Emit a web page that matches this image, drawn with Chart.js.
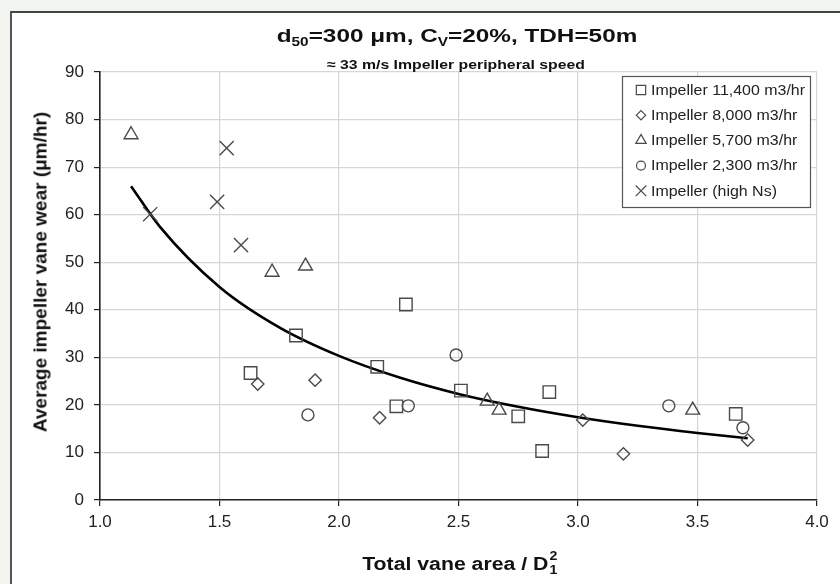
<!DOCTYPE html>
<html>
<head>
<meta charset="utf-8">
<script src="https://cdn.jsdelivr.net/npm/chart.js@4.4.1/dist/chart.umd.min.js"></script>
<style>
  html, body { margin: 0; padding: 0; background: #f2f4ef; }
  #wrap { position: relative; width: 840px; height: 584px; overflow: hidden; }
  #frame { position: absolute; left: 10px; top: 11px; width: 860px; height: 600px; background: #fff;
           border-left: 2px solid #555; border-top: 2px solid #444; }
  #chart { position: absolute; left: 0; top: 0; }
  .txt { position: absolute; font-family: "Liberation Sans", Arial, sans-serif; font-weight: bold;
         color: #111; white-space: nowrap; line-height: 1; }
  #title { left: 457px; top: 26px; transform: translateX(-50%) scaleX(1.28); font-size: 19px; }
  #title sub { font-size: 12px; vertical-align: -4px; }
  #subtitle { left: 456px; top: 58px; transform: translateX(-50%) scaleX(1.17); font-size: 13.5px; }
  #ytitle { left: 40px; top: 272px; transform: translate(-50%, -50%) rotate(-90deg); font-size: 19px; }
  #xtitle { left: 460px; top: 555px; transform: translateX(-50%) scaleX(1.18); font-size: 18px; }
  .stack { display: inline-block; position: relative; width: 8px; height: 18px; vertical-align: top; }
  .stack span { position: absolute; left: 1px; font-size: 12px; }
  .stack .sup { top: -5px; }
  .stack .sub { top: 9px; }
</style>
</head>
<body>
<div id="wrap">
  <div id="frame"></div>
  <canvas id="chart" width="840" height="584"></canvas>
  <div class="txt" id="title">d<sub>50</sub>=300 &mu;m, C<sub>V</sub>=20%, TDH=50m</div>
  <div class="txt" id="subtitle">&asymp; 33 m/s Impeller peripheral speed</div>
  <div class="txt" id="ytitle">Average impeller vane wear (&mu;m/hr)</div>
  <div class="txt" id="xtitle">Total vane area / D<span class="stack"><span class="sup">2</span><span class="sub">1</span></span></div>
</div>
<script>
// series (x = total vane area / D1^2, y = wear um/hr)
const imp11400X = [1.63, 1.82, 2.16, 2.24, 2.28, 2.51, 2.75, 2.85, 2.88, 3.66];
const imp11400Y = [26.7, 34.6, 28.0, 19.7, 41.1, 23.0, 17.6, 10.3, 22.7, 18.1];
const imp8000X = [1.66, 1.90, 2.17, 3.02, 3.19, 3.71];
const imp8000Y = [24.4, 25.2, 17.3, 16.8, 9.7, 12.6];
const imp5700X = [1.13, 1.72, 1.86, 2.62, 2.67, 3.48];
const imp5700Y = [76.8, 47.9, 49.2, 20.8, 18.9, 18.9];
const imp2300X = [1.87, 2.29, 2.49, 3.38, 3.69];
const imp2300Y = [17.9, 19.8, 30.5, 19.8, 15.2];
const highNsX = [1.21, 1.49, 1.53, 1.59];
const highNsY = [60.1, 62.7, 74.0, 53.6];
// trend curve as traced
const trendX = [1.13, 1.25, 1.5, 1.75, 2.0, 2.25, 2.5, 2.75, 3.0, 3.25, 3.5, 3.71];
const trendY = [66.0, 57.5, 44.8, 36.3, 30.3, 25.8, 22.3, 19.6, 17.4, 15.6, 14.1, 13.0];

const seriesLabels = ['Impeller 11,400 m3/hr', 'Impeller 8,000 m3/hr', 'Impeller 5,700 m3/hr',
                      'Impeller 2,300 m3/hr', 'Impeller (high Ns)'];
const xTicks = [1.0, 1.5, 2.0, 2.5, 3.0, 3.5, 4.0];
const yTicks = [0, 10, 20, 30, 40, 50, 60, 70, 80, 90];

const FONT = '"Liberation Sans", Arial, sans-serif';
const MARK = '#4a4a4a';

function pts(xs, ys) { return xs.map((x, i) => ({ x, y: ys[i] })); }

function markerSet(label, xs, ys, style, radius) {
  return {
    type: 'scatter', label, data: pts(xs, ys),
    pointStyle: style, pointRadius: radius, pointHoverRadius: radius,
    borderColor: MARK, backgroundColor: 'rgba(0,0,0,0)', pointBorderWidth: 1.4
  };
}

// boxed legend inside the plot, top right
const boxLegend = {
  id: 'boxLegend',
  afterDraw(chart) {
    const { ctx, chartArea } = chart;
    const w = 188, h = 131, rowH = 25.2;
    const left = chartArea.right - w - 7, top = chartArea.top + 4;
    ctx.save();
    ctx.fillStyle = '#fff';
    ctx.fillRect(left, top, w, h);
    ctx.strokeStyle = '#555';
    ctx.lineWidth = 1.2;
    ctx.strokeRect(left + 0.5, top + 0.5, w, h);
    ctx.font = '14px ' + FONT;
    ctx.textBaseline = 'middle';
    chart.data.datasets.forEach((ds, i) => {
      if (!ds.label) return;
      const cy = top + 14 + i * rowH;
      ctx.strokeStyle = MARK;
      ctx.fillStyle = 'rgba(0,0,0,0)';
      ctx.lineWidth = 1.2;
      Chart.helpers.drawPoint(ctx, { pointStyle: ds.pointStyle, radius: ds.pointRadius * 0.75, rotation: 0, borderWidth: 1.2 },
        left + 19, cy);
      // the reference text is a little wide, stretch it horizontally
      ctx.save();
      ctx.translate(left + 29, cy + 1);
      ctx.scale(1.14, 1);
      ctx.fillStyle = '#222';
      ctx.fillText(ds.label, 0, 0);
      ctx.restore();
    });
    ctx.restore();
  }
};

new Chart(document.getElementById('chart'), {
  data: {
    datasets: [
      markerSet(seriesLabels[0], imp11400X, imp11400Y, 'rect', 8.8),
      markerSet(seriesLabels[1], imp8000X, imp8000Y, 'rectRot', 6.2),
      markerSet(seriesLabels[2], imp5700X, imp5700Y, 'triangle', 8),
      markerSet(seriesLabels[3], imp2300X, imp2300Y, 'circle', 6),
      markerSet(seriesLabels[4], highNsX, highNsY, 'crossRot', 10),
      {
        type: 'line', label: '', data: pts(trendX, trendY),
        borderColor: '#000', borderWidth: 2.6, pointRadius: 0, tension: 0.4,
        cubicInterpolationMode: 'monotone', fill: false
      }
    ]
  },
  options: {
    responsive: false,
    animation: false,
    events: [],
    layout: { padding: { left: 58, right: 23, top: 72, bottom: 54 } },
    plugins: { legend: { display: false }, tooltip: { enabled: false } },
    scales: {
      x: {
        type: 'linear', min: 1, max: 4,
        afterFit: (s) => { s.height = 30; },
        afterBuildTicks: (s) => { s.ticks = xTicks.map(v => ({ value: v })); },
        ticks: { color: '#222', font: { family: FONT, size: 17 }, padding: 6,
                 callback: (v) => Number(v).toFixed(1) },
        grid: { color: '#d6d6d6', lineWidth: 1.2, tickLength: 6, tickColor: '#222' },
        border: { color: '#222', width: 1.6 }
      },
      y: {
        type: 'linear', min: 0, max: 90,
        afterFit: (s) => { s.width = 42; },
        afterBuildTicks: (s) => { s.ticks = yTicks.map(v => ({ value: v })); },
        ticks: { color: '#222', font: { family: FONT, size: 17 }, padding: 10 },
        grid: { color: '#d6d6d6', lineWidth: 1.2, tickLength: 6, tickColor: '#222' },
        border: { color: '#222', width: 1.6 }
      }
    }
  },
  plugins: [boxLegend]
});
</script>
</body>
</html>
